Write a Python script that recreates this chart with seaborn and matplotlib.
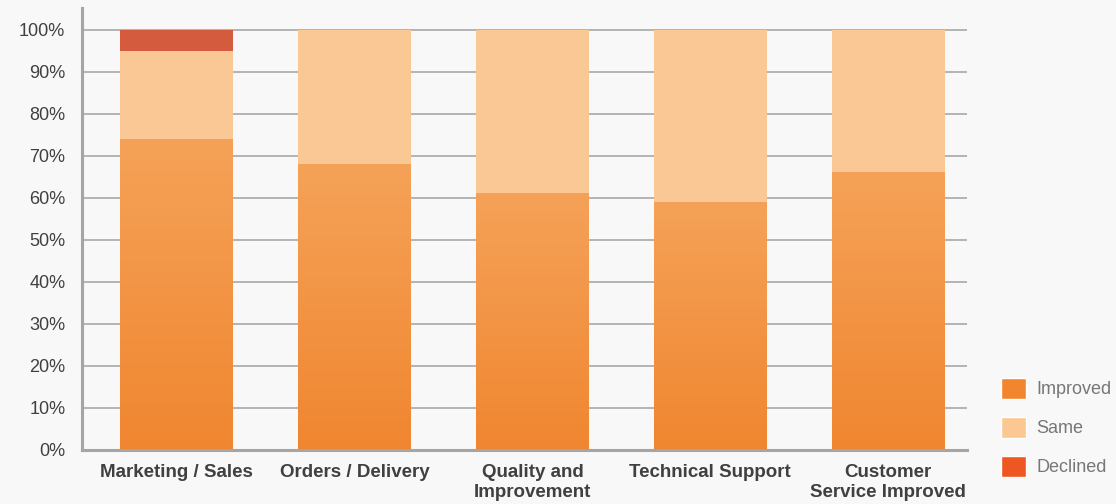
import numpy as np
import pandas as pd
import matplotlib
matplotlib.use("Agg")
import matplotlib.pyplot as plt
import seaborn as sns
from matplotlib.colors import LinearSegmentedColormap
from matplotlib.patches import Patch

categories = ["Marketing / Sales", "Orders / Delivery", "Quality and\nImprovement",
              "Technical Support", "Customer\nService Improved"]
improved = [74, 68, 61, 59, 66]
same = [21, 32, 39, 41, 34]
declined = [5, 0, 0, 0, 0]

bg = "#f7f8f7"
df = pd.DataFrame({"category": categories, "improved": improved,
                   "same": same, "declined": declined})
df["top_same"] = df["improved"] + df["same"]
df["top_declined"] = df["top_same"] + df["declined"]

sns.set_style("white")
plt.rcParams["font.family"] = ["Liberation Sans", "DejaVu Sans"]

fig = plt.figure(figsize=(11.16, 5.04), dpi=100, facecolor=bg)
ax = fig.add_axes([82 / 1116, 54 / 504, (967 - 82) / 1116, (450 - 8) / 504])
ax.set_facecolor(bg)

w = 0.635
sns.barplot(data=df, x="category", y="top_declined", color="#d45b3d", width=w,
            saturation=1, linewidth=0, ax=ax, zorder=3)
sns.barplot(data=df, x="category", y="top_same", color="#f9c894", width=w,
            saturation=1, linewidth=0, ax=ax, zorder=3)
sns.barplot(data=df, x="category", y="improved", color="#f08630", width=w,
            saturation=1, linewidth=0, ax=ax, zorder=3)

# vertical gradient on the Improved bars
cmap = LinearSegmentedColormap.from_list("imp", ["#f08630", "#f5a258"])
grad = np.linspace(0, 1, 256).reshape(-1, 1)
for bar in ax.containers[2]:
    x0, y0 = bar.get_x(), bar.get_y()
    bw, bh = bar.get_width(), bar.get_height()
    ax.imshow(grad, cmap=cmap, origin="lower", aspect="auto",
              extent=[x0, x0 + bw, y0, y0 + bh], zorder=4)

ax.set_xlim(-0.534, 4.444)
ax.set_ylim(0, 105.2)
ax.set_yticks(range(0, 101, 10))
ax.set_yticklabels([f"{v}%" for v in range(0, 101, 10)])
for v in range(10, 101, 10):
    ax.axhline(v, color="#a8a8a8", lw=1.2, zorder=1)

ax.set_xlabel("")
ax.set_ylabel("")
for s in ["top", "right"]:
    ax.spines[s].set_visible(False)
for s in ["left", "bottom"]:
    ax.spines[s].set_color("#a5a5a5")
    ax.spines[s].set_linewidth(2.2)
    ax.spines[s].set_zorder(5)

ax.tick_params(axis="y", length=0, pad=12, labelsize=13, labelcolor="#404040")
ax.tick_params(axis="x", length=0, pad=10, labelsize=13.5, labelcolor="#404040")
for lab in ax.get_xticklabels():
    lab.set_fontweight("bold")
    lab.set_linespacing(1.25)

handles = [Patch(facecolor="#f2862f", label="Improved"),
           Patch(facecolor="#fbc894", label="Same"),
           Patch(facecolor="#ef5722", label="Declined")]
leg = fig.legend(handles=handles, loc="upper left", bbox_to_anchor=(1001 / 1116, 1 - 378 / 504),
                 frameon=False, fontsize=13, handlelength=1.4, handleheight=1.4,
                 labelspacing=1.0, handletextpad=0.55, borderaxespad=0, borderpad=0)
for t in leg.get_texts():
    t.set_color("#777777")

fig.savefig("out.png", dpi=100, facecolor=bg)
